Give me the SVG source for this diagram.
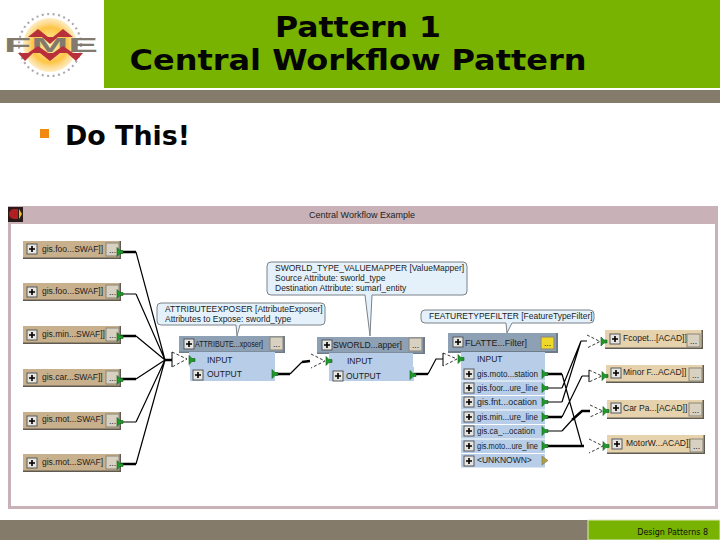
<svg xmlns="http://www.w3.org/2000/svg" width="720" height="540" viewBox="0 0 720 540">
<defs>
<radialGradient id="sun"><stop offset="0" stop-color="#fff2b0"/><stop offset="0.65" stop-color="#fdc545"/><stop offset="1" stop-color="#fdd98a" stop-opacity="0.5"/></radialGradient>
<g id="plus"><rect x="0" y="0" width="10" height="10" fill="#e8e6e0" stroke="#55585c" stroke-width="1"/><path d="M2 5h6M5 2v6" stroke="#000" stroke-width="1.6" fill="none"/></g>
<g id="port"><path d="M0 -4.500L0 4.500L3 1.500H6V-1.500H3Z" fill="#1f9a2a" stroke="#0f5f18" stroke-width="0.6"/></g>
<g id="dots"><rect x="0" y="0" width="13" height="13" fill="#d8d0c0" stroke="#8a8578"/><text x="6.500" y="10" text-anchor="middle" class="s">...</text></g>
</defs>
<style>
.s{font-family:"Liberation Sans",Arial,sans-serif;font-size:8.5px;fill:#1c1c1c}
.hd{font-family:"DejaVu Sans Condensed","DejaVu Sans",sans-serif;font-weight:700;fill:#050505}
.w{fill:none;stroke:#000;stroke-width:1.2}
.t{fill:none;stroke:#000;stroke-width:2.4}
.d{fill:#fff;stroke:none}
.dash{fill:none;stroke:#222;stroke-width:0.9;stroke-dasharray:3 2}
.so{fill:#c9b08c}.de{fill:#e6d3ae}.sh{fill:#5f5a52}
.bh{fill:#8ea0b4}.br{fill:#b8cde8}.bs{fill:#6e7c8a}
.co{fill:#e4f1fb;stroke:#7c8288;stroke-width:1}
</style>
<rect width="720" height="540" fill="#fff"/>
<rect x="104" y="0" width="616" height="88" fill="#77b300"/>
<rect x="0" y="90" width="720" height="13" fill="#857b6b"/>
<rect x="0" y="520" width="720" height="20" fill="#857b6b"/>
<rect x="588" y="520" width="132" height="20" fill="#77b300" stroke="#dfe8c8" stroke-width="1"/>
<g id="logo">
<circle cx="50" cy="45" r="27" fill="url(#sun)"/>
<circle cx="50" cy="45" r="31" fill="none" stroke="#b0a8b0" stroke-width="2.200" stroke-dasharray="2 3.500"/>
<text x="4" y="52" textLength="94" lengthAdjust="spacingAndGlyphs" style="font-family:'Liberation Sans',sans-serif;font-weight:700;font-size:21px;fill:#827a6c">FME</text>
<path d="M38 29L28 37H48ZM63 29L53 37H73ZM42 37H58L50 44ZM38 46L28 53H48ZM63 46L53 53H73ZM18 53H33L25 61ZM40 53H60L50 61ZM67 53H83L76 61Z" fill="#b8303a"/>
</g>
<text class="hd" x="358" y="37" text-anchor="middle" font-size="28" textLength="166" lengthAdjust="spacingAndGlyphs">Pattern 1</text>
<text class="hd" x="358" y="70" text-anchor="middle" font-size="28" textLength="457" lengthAdjust="spacingAndGlyphs">Central Workflow Pattern</text>
<rect x="40" y="129" width="9" height="9" fill="#f28a10"/>
<text class="hd" x="65" y="145" font-size="26" textLength="125" lengthAdjust="spacingAndGlyphs">Do This!</text>
<text x="708" y="535" text-anchor="end" style="font-family:'DejaVu Sans',sans-serif;font-size:8px;fill:#111">Design Patterns 8</text>

<rect x="9.500" y="207.500" width="707" height="300" fill="#fff" stroke="#c8b2b8" stroke-width="3"/>
<rect x="8" y="206" width="710" height="18" fill="#c8b2b8"/>
<rect x="8" y="207" width="15" height="15" fill="#2a1a1a"/><path d="M14 209a5 5 0 0 0 0 10h4v-10Z" fill="#b02020"/><path d="M19 209l3 5-3 5Z" fill="#f0c020"/>
<text class="s" x="362" y="218" text-anchor="middle" style="font-size:9px">Central Workflow Example</text>

<g id="connectors">
<path class="w" d="M136 252L165 360M136 294L165 360M136 336L165 360M136 379L165 360M136 422L165 360M136 464L165 360"/>
<path class="w" d="M120 294H136M120 422H136"/>
<path class="t" d="M120 252H136M120 336H136M120 379H136M120 464H136M165 360H172"/>
<path class="w" d="M290 374L302 362"/><path class="t" d="M302 362L310 361M275 374H290"/>
<path class="t" d="M413 374H428"/><path class="w" d="M428 374L436 359H443"/>
<path class="t" d="M545 374H562M545 417H562M545 446H584"/>
<path class="w" d="M545 388H562M545 402H562M545 431H562"/>
<path class="w" d="M562 374L582 446M562 388L581 341M562 402L581 341M562 417L582 376M562 431L572 420"/>
<path class="t" d="M572 420L582 411H590"/>
<path class="w" d="M581 341H587M582 376H589"/>
<path class="d" d="M172 352L187 359L172 367Z"/><path class="dash" d="M172 352L187 359L172 367"/><path d="M172 352V367" stroke="#000" fill="none"/>
<path class="dash" d="M311 354L325 361L311 368"/>
<path class="d" d="M443 353L457 359L443 366Z"/><path class="dash" d="M443 353L457 359L443 366"/><path d="M443 353V366" stroke="#000" fill="none"/>
<path class="dash" d="M587 335L600 341.500L587 348"/>
<path class="dash" d="M589 370L602 376L589 382"/><path d="M589 370V382" stroke="#000" fill="none"/>
<path class="dash" d="M590 405L603 411L590 417"/>
<path class="dash" d="M589 439L603 446L589 453"/>
</g>

<g id="src1"><rect class="sh" x="23" y="241" width="98" height="18"/><rect class="so" x="23" y="241" width="96.500" height="16.500"/><use href="#plus" x="27" y="244"/><text class="s" x="42" y="252">gis.foo...SWAF]]</text><use href="#dots" x="106" y="243"/><use href="#port" x="117" y="252"/></g>
<g id="src2"><rect class="sh" x="23" y="283" width="98" height="18"/><rect class="so" x="23" y="283" width="96.500" height="16.500"/><use href="#plus" x="27" y="287"/><text class="s" x="42" y="294">gis.foo...SWAF]]</text><use href="#dots" x="106" y="285"/><use href="#port" x="117" y="294"/></g>
<g id="src3"><rect class="sh" x="23" y="326" width="98" height="18"/><rect class="so" x="23" y="326" width="96.500" height="16.500"/><use href="#plus" x="27" y="330"/><text class="s" x="42" y="337">gis.min...SWAF]]</text><use href="#dots" x="106" y="328"/><use href="#port" x="117" y="337"/></g>
<g id="src4"><rect class="sh" x="23" y="369" width="98" height="18"/><rect class="so" x="23" y="369" width="96.500" height="16.500"/><use href="#plus" x="27" y="373"/><text class="s" x="42" y="380">gis.car...SWAF]]</text><use href="#dots" x="106" y="371"/><use href="#port" x="117" y="380"/></g>
<g id="src5"><rect class="sh" x="23" y="412" width="98" height="18"/><rect class="so" x="23" y="412" width="96.500" height="16.500"/><use href="#plus" x="27" y="416"/><text class="s" x="42" y="422">gis.mot...SWAF]</text><use href="#dots" x="106" y="414"/><use href="#port" x="117" y="422"/></g>
<g id="src6"><rect class="sh" x="23" y="454" width="98" height="18"/><rect class="so" x="23" y="454" width="96.500" height="16.500"/><use href="#plus" x="27" y="458"/><text class="s" x="42" y="465">gis.mot...SWAF]</text><use href="#dots" x="106" y="456"/><use href="#port" x="117" y="465"/></g>

<g id="attribute-exposer">
<path class="co" d="M161 303H321Q325 303 325 307V321Q325 325 321 325H240L237 336L236 325H161Q157 325 157 321V307Q157 303 161 303Z"/>
<text class="s" x="165" y="312">ATTRIBUTEEXPOSER [AttributeExposer]</text>
<text class="s" x="165" y="322">Attributes to Expose: sworld_type</text>
<rect class="bs" x="179" y="336" width="106" height="17"/><rect class="bh" x="179" y="336" width="104" height="15.500"/><use href="#plus" x="184" y="339"/><text class="s" x="195" y="347" textLength="68" lengthAdjust="spacingAndGlyphs">ATTRIBUTE...xposer]</text><use href="#dots" x="270" y="337"/>
<rect class="br" x="189" y="352" width="86" height="15"/><text class="s" x="207" y="363">INPUT</text>
<rect class="br" x="190" y="367" width="85" height="14"/><use href="#plus" x="193" y="370"/><text class="s" x="207" y="377">OUTPUT</text>
<use href="#port" x="189" y="360"/><use href="#port" x="272" y="374"/>
</g>
<g id="valuemapper">
<path class="co" d="M271 262H463Q467 262 467 266V291Q467 295 463 295H372L370 336L365 295H271Q267 295 267 291V266Q267 262 271 262Z"/>
<text class="s" x="275" y="271">SWORLD_TYPE_VALUEMAPPER [ValueMapper]</text>
<text class="s" x="275" y="281">Source Attribute: sworld_type</text>
<text class="s" x="275" y="291">Destination Attribute: sumarl_entity</text>
<rect class="bs" x="317" y="337" width="108" height="17"/><rect class="bh" x="317" y="337" width="106" height="15.500"/><use href="#plus" x="322" y="340"/><text class="s" x="333" y="348" textLength="69" lengthAdjust="spacingAndGlyphs">SWORLD...apper]</text><use href="#dots" x="409" y="338"/>
<rect class="br" x="329" y="353" width="84" height="14"/><text class="s" x="347" y="364">INPUT</text>
<rect class="br" x="329" y="367" width="85" height="14"/><use href="#plus" x="333" y="371"/><text class="s" x="346" y="379">OUTPUT</text>
<use href="#port" x="326" y="361"/><use href="#port" x="410" y="375"/>
</g>
<g id="feature-type-filter">
<path class="co" d="M425 310H590Q594 310 594 314V319Q594 323 590 323H512L507 333L506 323H425Q421 323 421 319V314Q421 310 425 310Z"/>
<text class="s" x="429" y="319">FEATURETYPEFILTER [FeatureTypeFilter]</text>
<rect class="bs" x="448" y="333" width="110" height="20"/><rect class="bh" x="448" y="333" width="108" height="18"/><use href="#plus" x="453" y="337"/><text class="s" x="465" y="346" textLength="62" lengthAdjust="spacingAndGlyphs">FLATTE...Filter]</text><rect x="541" y="337" width="13" height="12" fill="#f0d828" stroke="#8a8578"/><text class="s" x="547.500" y="346" text-anchor="middle">...</text>
<rect class="br" x="461" y="352" width="84" height="15"/><text class="s" x="477" y="362">INPUT</text>
<use href="#port" x="458" y="359"/>
<rect class="br" x="461" y="367" width="84" height="13.500"/><use href="#plus" x="464" y="369"/><text class="s" x="477" y="377" textLength="61" lengthAdjust="spacingAndGlyphs">gis.moto...station</text><use href="#port" x="542" y="374"/>
<rect class="br" x="461" y="381.500" width="84" height="13.500"/><use href="#plus" x="464" y="383"/><text class="s" x="477" y="391" textLength="61" lengthAdjust="spacingAndGlyphs">gis.foor...ure_line</text><use href="#port" x="542" y="388"/>
<rect class="br" x="461" y="396" width="84" height="13.500"/><use href="#plus" x="464" y="397"/><text class="s" x="477" y="405" textLength="60" lengthAdjust="spacingAndGlyphs">gis.fnt...ocation</text><use href="#port" x="542" y="402"/>
<rect class="br" x="461" y="410.500" width="84" height="13.500"/><use href="#plus" x="464" y="412"/><text class="s" x="477" y="420" textLength="61" lengthAdjust="spacingAndGlyphs">gis.min...ure_line</text><use href="#port" x="542" y="417"/>
<rect class="br" x="461" y="425" width="84" height="13.500"/><use href="#plus" x="464" y="426"/><text class="s" x="477" y="434" textLength="58" lengthAdjust="spacingAndGlyphs">gis.ca_...ocation</text><use href="#port" x="542" y="431"/>
<rect class="br" x="461" y="439.500" width="84" height="13.500"/><use href="#plus" x="464" y="441"/><text class="s" x="477" y="449" textLength="61" lengthAdjust="spacingAndGlyphs">gis.moto...ure_line</text><use href="#port" x="542" y="446"/>
<rect class="br" x="461" y="454" width="84" height="13.500"/><use href="#plus" x="464" y="456"/><text class="s" x="477" y="463">&lt;UNKNOWN&gt;</text><path d="M542 456V465L548 460.500Z" fill="#b0a040" stroke="#666" stroke-width="0.500"/>
</g>

<g id="dst1"><rect class="sh" x="605" y="330" width="98" height="19"/><rect class="de" x="605" y="330" width="96.500" height="17.500"/><use href="#plus" x="610" y="334"/><text class="s" x="623" y="341">Fcopet...[ACAD]]</text><use href="#dots" x="687" y="334"/><use href="#port" x="601" y="341.500"/></g>
<g id="dst2"><rect class="sh" x="606" y="365" width="98" height="18"/><rect class="de" x="606" y="365" width="96.500" height="16.500"/><use href="#plus" x="611" y="368"/><text class="s" x="623" y="375">Minor F...ACAD]]</text><use href="#dots" x="689" y="368"/><use href="#port" x="602" y="376"/></g>
<g id="dst3"><rect class="sh" x="607" y="400" width="97" height="19"/><rect class="de" x="607" y="400" width="95.500" height="17.500"/><use href="#plus" x="611" y="403"/><text class="s" x="623" y="411">Car Pa...[ACAD]]</text><use href="#dots" x="689" y="403"/><use href="#port" x="603" y="411"/></g>
<g id="dst4"><rect class="sh" x="607" y="435" width="98" height="19"/><rect class="de" x="607" y="435" width="96.500" height="17.500"/><use href="#plus" x="612" y="439"/><text class="s" x="626" y="446">MotorW...ACAD]]</text><use href="#dots" x="690" y="439"/><use href="#port" x="603" y="446"/></g>
</svg>
